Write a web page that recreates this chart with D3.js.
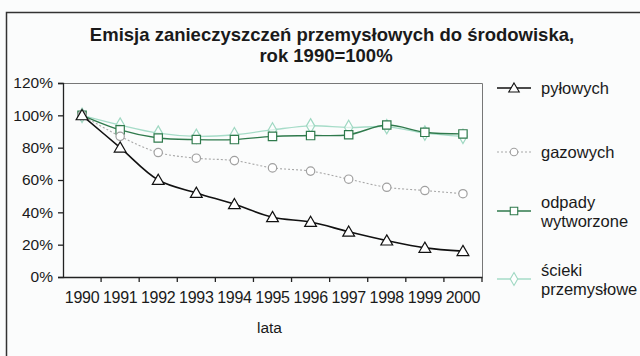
<!DOCTYPE html>
<html>
<head>
<meta charset="utf-8">
<script src="https://cdn.jsdelivr.net/npm/d3@7"></script>
<style>
  html, body { margin: 0; padding: 0; background: #fbfcfc; }
  svg { display: block; font-family: "Liberation Sans", Arial, Helvetica, sans-serif; }
</style>
</head>
<body>
<svg id="chart" width="640" height="356"></svg>
<script>
// Emission of industrial pollutants, 1990 = 100%
const years = ["1990","1991","1992","1993","1994","1995","1996","1997","1998","1999","2000"];
const pylowych   = [100, 80, 60, 52, 45, 37, 34, 28, 22.5, 18, 16];
const gazowych   = [100, 87, 77, 73.5, 72, 67.5, 65.5, 60.5, 55.5, 53.5, 51.5];
const odpady     = [100, 91, 86, 85, 85, 87, 87.5, 88, 94, 89.5, 88.5];
const scieki     = [100, 94, 89, 87, 88, 91, 93.5, 92.5, 93, 89, 87];
const yTicks     = [0, 20, 40, 60, 80, 100, 120];

const series = [
  { name: ["pyłowych"], values: pylowych, stroke: "#111", width: 1.6, dash: null, marker: "triangle", mstroke: "#111", msize: 60 },
  { name: ["gazowych"], values: gazowych, stroke: "#a8a8a8", width: 1.1, dash: "2,2", marker: "circle", mstroke: "#a0a0a0", msize: 55 },
  { name: ["odpady", "wytworzone"], values: odpady, stroke: "#2f7a4c", width: 1.4, dash: null, marker: "square", mstroke: "#2f7a4c", msize: 70 },
  { name: ["ścieki", "przemysłowe"], values: scieki, stroke: "#a6dcc8", width: 1.4, dash: null, marker: "diamond", mstroke: "#9fd8c2", msize: 60 }
];

const svg = d3.select("#chart");

// outer frame (top and left edges visible)
svg.append("path")
  .attr("d", "M6.5,356 L6.5,12.5 L640,12.5")
  .attr("fill", "none").attr("stroke", "#333").attr("stroke-width", 1.5);

// title
const title = svg.append("text").attr("text-anchor", "middle")
  .attr("font-weight", "bold").attr("font-size", 18.5).attr("fill", "#1a1a1a");
title.append("tspan").attr("x", 332).attr("y", 41).text("Emisja zanieczyszczeń przemysłowych do środowiska,");
title.append("tspan").attr("x", 326).attr("y", 62).text("rok 1990=100%");

const plot = { left: 63, right: 482, top: 83, bottom: 277 };

const x = d3.scaleBand().domain(years).range([plot.left, plot.right]);
const y = d3.scaleLinear().domain([0, 120]).range([plot.bottom, plot.top]);
const cx = d => x(d) + x.bandwidth() / 2;

// plot area border (top and right)
svg.append("path")
  .attr("d", `M${plot.left},${plot.top + 0.5} L${plot.right + 0.5},${plot.top + 0.5} L${plot.right + 0.5},${plot.bottom}`)
  .attr("fill", "none").attr("stroke", "#777").attr("stroke-width", 1);

// y axis
const yAxis = svg.append("g").attr("transform", `translate(${plot.left},0)`)
  .call(d3.axisLeft(y).tickValues(yTicks).tickFormat(d => d + "%").tickSize(5).tickPadding(5));
yAxis.selectAll("text").attr("font-size", 15.5).attr("fill", "#1a1a1a");
yAxis.selectAll("line, path").attr("stroke", "#222").attr("stroke-width", 1.3);

// x axis: ticks at category boundaries
const xAxis = svg.append("g").attr("transform", `translate(0,${plot.bottom})`)
  .call(d3.axisBottom(x).tickSize(0).tickPadding(15));
xAxis.selectAll("text").attr("font-size", 16).attr("fill", "#1a1a1a").attr("letter-spacing", -0.3);
xAxis.select(".domain").attr("stroke", "#222").attr("stroke-width", 1.3);
xAxis.selectAll(".bound").data(years.slice(1).concat(["end"])).enter().append("line")
  .attr("x1", (d, i) => x(years[0]) + (i + 1) * x.bandwidth())
  .attr("x2", (d, i) => x(years[0]) + (i + 1) * x.bandwidth())
  .attr("y1", 0).attr("y2", 5).attr("stroke", "#222").attr("stroke-width", 1.3);

svg.append("text").attr("x", 269.5).attr("y", 333).attr("text-anchor", "middle")
  .attr("font-size", 15.5).attr("fill", "#1a1a1a").text("lata");

const symbols = {
  triangle: d3.symbolTriangle,
  circle: d3.symbolCircle,
  square: d3.symbolSquare,
  diamond: d3.symbolDiamond
};

const line = d3.line()
  .x((d, i) => cx(years[i]))
  .y(d => y(d))
  .curve(d3.curveCatmullRom.alpha(0.5));

// draw back-to-front so the dark series stay on top
const order = [3, 2, 1, 0];
order.forEach(k => {
  const s = series[k];
  svg.append("path").datum(s.values)
    .attr("d", line).attr("fill", "none")
    .attr("stroke", s.stroke).attr("stroke-width", s.width)
    .attr("stroke-dasharray", s.dash);
  svg.append("g").selectAll("path").data(s.values).enter().append("path")
    .attr("transform", (d, i) => `translate(${cx(years[i])},${y(d) + (s.marker === "triangle" ? 1 : 0)})`)
    .attr("d", d3.symbol().type(symbols[s.marker]).size(s.msize))
    .attr("fill", "#fff").attr("fill-opacity", s.marker === "diamond" ? 0.6 : 1)
    .attr("stroke", s.mstroke).attr("stroke-width", 1.2);
});

// legend
const legendY = [88, 152, 211, 279];
series.forEach((s, k) => {
  const g = svg.append("g").attr("transform", `translate(0,${legendY[k]})`);
  g.append("line").attr("x1", 497).attr("x2", 531).attr("y1", 0).attr("y2", 0)
    .attr("stroke", s.stroke).attr("stroke-width", s.width).attr("stroke-dasharray", s.dash);
  g.append("path").attr("transform", `translate(514,${s.marker === "triangle" ? 1 : 0})`)
    .attr("d", d3.symbol().type(symbols[s.marker]).size(s.msize * 0.8))
    .attr("fill", "#fff").attr("stroke", s.mstroke).attr("stroke-width", 1.1);
  const t = g.append("text").attr("font-size", 16.5).attr("fill", "#1a1a1a");
  if (s.name.length === 1) {
    t.append("tspan").attr("x", 541).attr("y", 6).text(s.name[0]);
  } else {
    t.append("tspan").attr("x", 541).attr("y", -3).text(s.name[0]);
    t.append("tspan").attr("x", 541).attr("y", 16).text(s.name[1]);
  }
});
</script>
</body>
</html>
